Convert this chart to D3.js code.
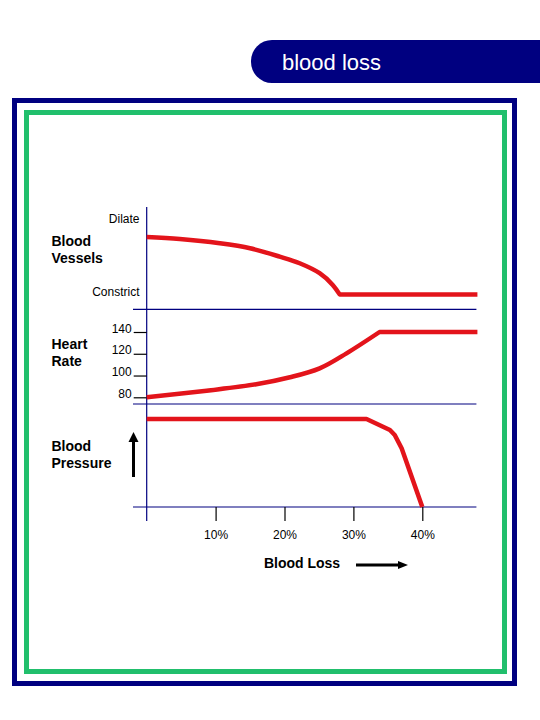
<!DOCTYPE html>
<html>
<head>
<meta charset="utf-8">
<script src="https://cdn.jsdelivr.net/npm/d3@7"></script>
<style>
  html, body { margin: 0; padding: 0; background: #ffffff; }
  svg { display: block; }
  text { font-family: Arial, "Liberation Sans", sans-serif; }
</style>
</head>
<body>
<script>
// ---------------- data ----------------
const title = "blood loss";
const xTicks = [10, 20, 30, 40];            // blood loss, %
const xTickLabels = ["10%", "20%", "30%", "40%"];
const xMax = 48;                            // right end of the plotted range, %

// Blood vessels: 100 = dilate, 0 = constrict
const vesselPct = [0, 4.8, 10.6, 15.0, 19.3, 22.2, 25.1, 27.0, 28.0];
const vesselVal = [76.2, 73.5, 67.8, 61.2, 50.1, 41.3, 28.1, 12.6, 0];
const vesselFlatEnd = 48;
const vesselLabels = ["Dilate", "Constrict"];
const vesselLabelVals = [100, 3];

// Heart rate, beats per minute
const hrTicks = [80, 100, 120, 140];
const hrPct = [0, 8.7, 15.9, 20.8, 25.1, 29.0, 33.8];
const hrVal = [80, 86.1, 92, 98.4, 106.6, 120.4, 140];
const hrFlatEnd = 48;

// Blood pressure (relative, 100 = normal)
const bpPct = [0, 31.9, 35.3, 36.0, 37.0, 40.0];
const bpVal = [100, 100, 87.5, 81.8, 66.7, 0];

const rowLabels = [["Blood", "Vessels"], ["Heart", "Rate"], ["Blood", "Pressure"]];
const xAxisTitle = "Blood Loss";

// ---------------- drawing ----------------
const W = 540, H = 720;
const navy = "#000080", red = "#e3141b", green = "#21bf6c";

const svg = d3.select("body").append("svg").attr("width", W).attr("height", H);

// frames
svg.append("rect").attr("x", 14.5).attr("y", 100.5).attr("width", 500).attr("height", 583)
  .attr("fill", "none").attr("stroke", navy).attr("stroke-width", 5);
svg.append("rect").attr("x", 26.5).attr("y", 112.5).attr("width", 478).attr("height", 559)
  .attr("fill", "none").attr("stroke", green).attr("stroke-width", 5);

// title banner (rounded left end)
const bx = 251, by = 40, bh = 43, r = 21;
svg.append("path")
  .attr("d", `M${W},${by} L${bx + r},${by} A${r},${r} 0 0 0 ${bx},${by + r} L${bx},${by + bh - r} A${r},${r} 0 0 0 ${bx + r},${by + bh} L${W},${by + bh} Z`)
  .attr("fill", navy);
svg.append("text").attr("x", 282).attr("y", 69.5).attr("fill", "#fff")
  .attr("font-size", 22).text(title);

// scales
const x = d3.scaleLinear().domain([0, 40]).range([146.7, 422.3]);
const yV = d3.scaleLinear().domain([0, 100]).range([294.4, 219]);
const yHR = d3.scaleLinear().domain([80, 140]).range([397.3, 332]);
const yBP = d3.scaleLinear().domain([0, 100]).range([507, 419]);

const axisG = svg.append("g").attr("stroke", navy).attr("stroke-width", 1.2).attr("fill", "none");
// vertical axis
axisG.append("line").attr("x1", x(0)).attr("x2", x(0)).attr("y1", 207).attr("y2", 521);
// separator lines and baseline
[309.3, 404, 507].forEach(yy => {
  axisG.append("line").attr("x1", 133).attr("x2", x(xMax) - 1).attr("y1", yy).attr("y2", yy);
});

// x axis ticks via d3 axis
const xAxis = d3.axisBottom(x).tickValues(xTicks).tickSize(14)
  .tickFormat((d, i) => xTickLabels[i]);
const gx = svg.append("g").attr("transform", `translate(0,${yBP(0)})`).call(xAxis);
gx.select(".domain").remove();
gx.selectAll(".tick line").attr("stroke", "#000").attr("stroke-width", 1.2);
gx.selectAll(".tick text").attr("font-size", 12).attr("fill", "#000")
  .attr("font-family", "Arial, 'Liberation Sans', sans-serif").attr("dy", 0).attr("y", 32);

// heart rate axis via d3 axis
const hrAxis = d3.axisLeft(yHR).tickValues(hrTicks).tickSize(13).tickPadding(2);
const ghr = svg.append("g").attr("transform", `translate(${x(0)},0)`).call(hrAxis);
ghr.select(".domain").remove();
ghr.selectAll(".tick line").attr("stroke", "#000").attr("stroke-width", 1.2);
ghr.selectAll(".tick text").attr("font-size", 12).attr("fill", "#000")
  .attr("font-family", "Arial, 'Liberation Sans', sans-serif").attr("dy", 0).attr("y", 0);

// vessel labels
vesselLabels.forEach((t, i) => {
  svg.append("text").attr("x", 139.5).attr("y", yV(vesselLabelVals[i])).attr("dy", "0.32em")
    .attr("text-anchor", "end").attr("font-size", 12).text(t);
});

// row labels
const rowY = [246, 349, 450.7];
rowLabels.forEach((lines, i) => {
  lines.forEach((t, j) => {
    svg.append("text").attr("x", 51.5).attr("y", rowY[i] + j * 17)
      .attr("font-size", 14).attr("font-weight", "bold").text(t);
  });
});

// up arrow (blood pressure)
svg.append("line").attr("x1", 133.5).attr("x2", 133.5).attr("y1", 477).attr("y2", 440)
  .attr("stroke", "#000").attr("stroke-width", 3);
svg.append("path").attr("d", "M128.5,442 L133.5,432 L138.5,442 Z").attr("fill", "#000");

// x axis title and arrow
svg.append("text").attr("x", 302).attr("y", 568.3).attr("text-anchor", "middle")
  .attr("font-size", 14).attr("font-weight", "bold").text(xAxisTitle);
svg.append("line").attr("x1", 356).attr("x2", 400).attr("y1", 565).attr("y2", 565)
  .attr("stroke", "#000").attr("stroke-width", 3);
svg.append("path").attr("d", "M398,561 L408,565 L398,569 Z").attr("fill", "#000");

// series lines
const lineStyle = g => g.attr("fill", "none").attr("stroke", red).attr("stroke-width", 4.5)
  .attr("stroke-linejoin", "round").attr("stroke-linecap", "butt");

const vesselPts = vesselPct.map((p, i) => [x(p), yV(vesselVal[i])]);
svg.append("path").call(lineStyle)
  .attr("d", d3.line().curve(d3.curveCatmullRom)(vesselPts) +
    `L${x(vesselFlatEnd)},${yV(vesselVal[vesselVal.length - 1])}`);

const hrPts = hrPct.map((p, i) => [x(p), yHR(hrVal[i])]);
svg.append("path").call(lineStyle)
  .attr("d", d3.line().curve(d3.curveCatmullRom)(hrPts) +
    `L${x(hrFlatEnd)},${yHR(hrVal[hrVal.length - 1])}`);

const bpPts = bpPct.map((p, i) => [x(p), yBP(bpVal[i])]);
svg.append("path").call(lineStyle)
  .attr("d", d3.line()(bpPts));
</script>
</body>
</html>
